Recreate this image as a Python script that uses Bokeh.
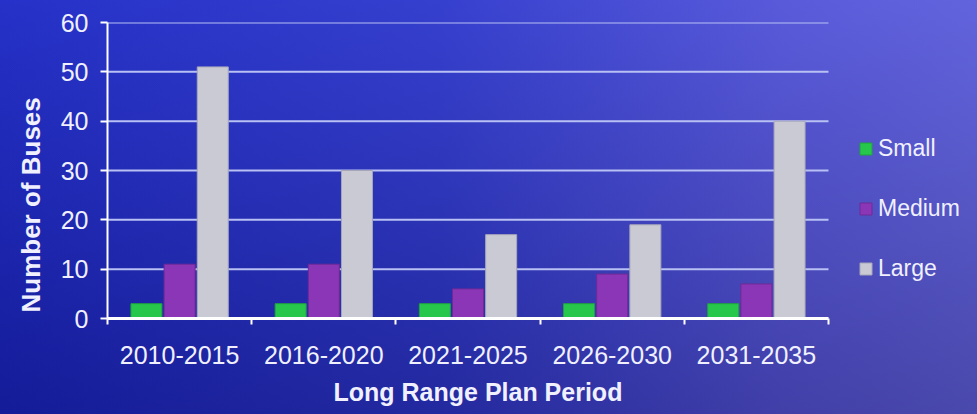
import numpy as np
from bokeh.plotting import figure
from bokeh.models import Range1d, FixedTicker, Legend, LegendItem, Title
from bokeh.embed import file_html
from bokeh.resources import INLINE

periods = ["2010-2015", "2016-2020", "2021-2025", "2026-2030", "2031-2035"]
small = [3, 3, 3, 3, 3]
medium = [11, 11, 6, 9, 7]
large = [51, 30, 17, 19, 40]
y_ticks = [0, 10, 20, 30, 40, 50, 60]

n = len(periods)
centers = np.arange(n) + 0.5

# frame spans 107..977 px; the category area spans 107..828 px (n units)
x_end = n * (977 - 107) / (828 - 107)

p = figure(width=977, height=414, output_backend="svg", toolbar_location=None,
           x_range=Range1d(0, x_end), y_range=Range1d(0, 60),
           min_border_left=107, min_border_right=0, min_border_top=22, min_border_bottom=96)
p.styles = {"background": "linear-gradient(to bottom, rgba(80,100,255,0.18), rgba(0,0,60,0.28)), "
                          "linear-gradient(to right, #1c26bc 0%, #3038c4 45%, #5a58d2 80%, #6664d6 100%)"}
p.border_fill_color = None
p.background_fill_color = None
p.outline_line_color = None

# grid lines limited to the category area
p.xgrid.grid_line_color = None
p.ygrid.grid_line_color = None
p.segment(x0=0, x1=n, y0=y_ticks[1:], y1=y_ticks[1:], line_color="#b8c0f4", line_width=2, level="underlay")

w = 0.215
r1 = p.vbar(x=centers - 0.23, top=small, width=w, fill_color="#27c74c", line_color="#1fa23e", line_width=1)
r2 = p.vbar(x=centers, top=medium, width=w, fill_color="#8a36b6", line_color="#702a96", line_width=1)
r3 = p.vbar(x=centers + 0.23, top=large, width=w, fill_color="#cacad4", line_color="#a6a6b8", line_width=1)

# y axis
ya = p.yaxis[0]
ya.ticker = FixedTicker(ticks=y_ticks)
ya.axis_line_color = "white"
ya.axis_line_width = 2
ya.major_tick_line_color = "white"
ya.major_tick_line_width = 2
ya.major_tick_in = 0
ya.major_tick_out = 7
ya.minor_tick_line_color = None
ya.major_label_text_color = "#f0f0ff"
ya.major_label_text_font = "Liberation Sans"
ya.major_label_text_font_size = "25px"
ya.major_label_standoff = 12

ytitle = Title(text="Number of Buses", align="left", offset=6,
               text_color="#f0f0ff", text_font="Liberation Sans", text_font_style="bold",
               text_font_size="26px", standoff=23)
p.add_layout(ytitle, "left")

# x axis
xa = p.xaxis[0]
xa.bounds = (0, n)
xa.ticker = FixedTicker(ticks=list(centers), minor_ticks=list(range(n + 1)))
xa.major_label_overrides = {float(c): lab for c, lab in zip(centers, periods)}
xa.axis_line_color = "white"
xa.axis_line_width = 3
xa.major_tick_line_color = None
xa.minor_tick_line_color = "white"
xa.minor_tick_line_width = 2
xa.minor_tick_in = 0
xa.minor_tick_out = 6
xa.major_label_text_color = "#f0f0ff"
xa.major_label_text_font = "Liberation Sans"
xa.major_label_text_font_size = "25px"
xa.major_label_standoff = 21

xtitle = Title(text="Long Range Plan Period", align="left", offset=226,
               text_color="#f0f0ff", text_font="Liberation Sans", text_font_style="bold",
               text_font_size="25px", standoff=18)
p.add_layout(xtitle, "below")

legend = Legend(items=[LegendItem(label="Small", renderers=[r1]),
                       LegendItem(label="Medium", renderers=[r2]),
                       LegendItem(label="Large", renderers=[r3])],
                location=(751, 36))
legend.background_fill_alpha = 0
legend.border_line_alpha = 0
legend.label_text_color = "#f0f0ff"
legend.label_text_font = "Liberation Sans"
legend.label_text_font_size = "23px"
legend.glyph_width = 15
legend.glyph_height = 15
legend.label_height = 20
legend.spacing = 33
legend.padding = 0
legend.margin = 0
legend.label_standoff = 5
p.add_layout(legend, "center")

open("out.html", "w").write(file_html(p, INLINE))
